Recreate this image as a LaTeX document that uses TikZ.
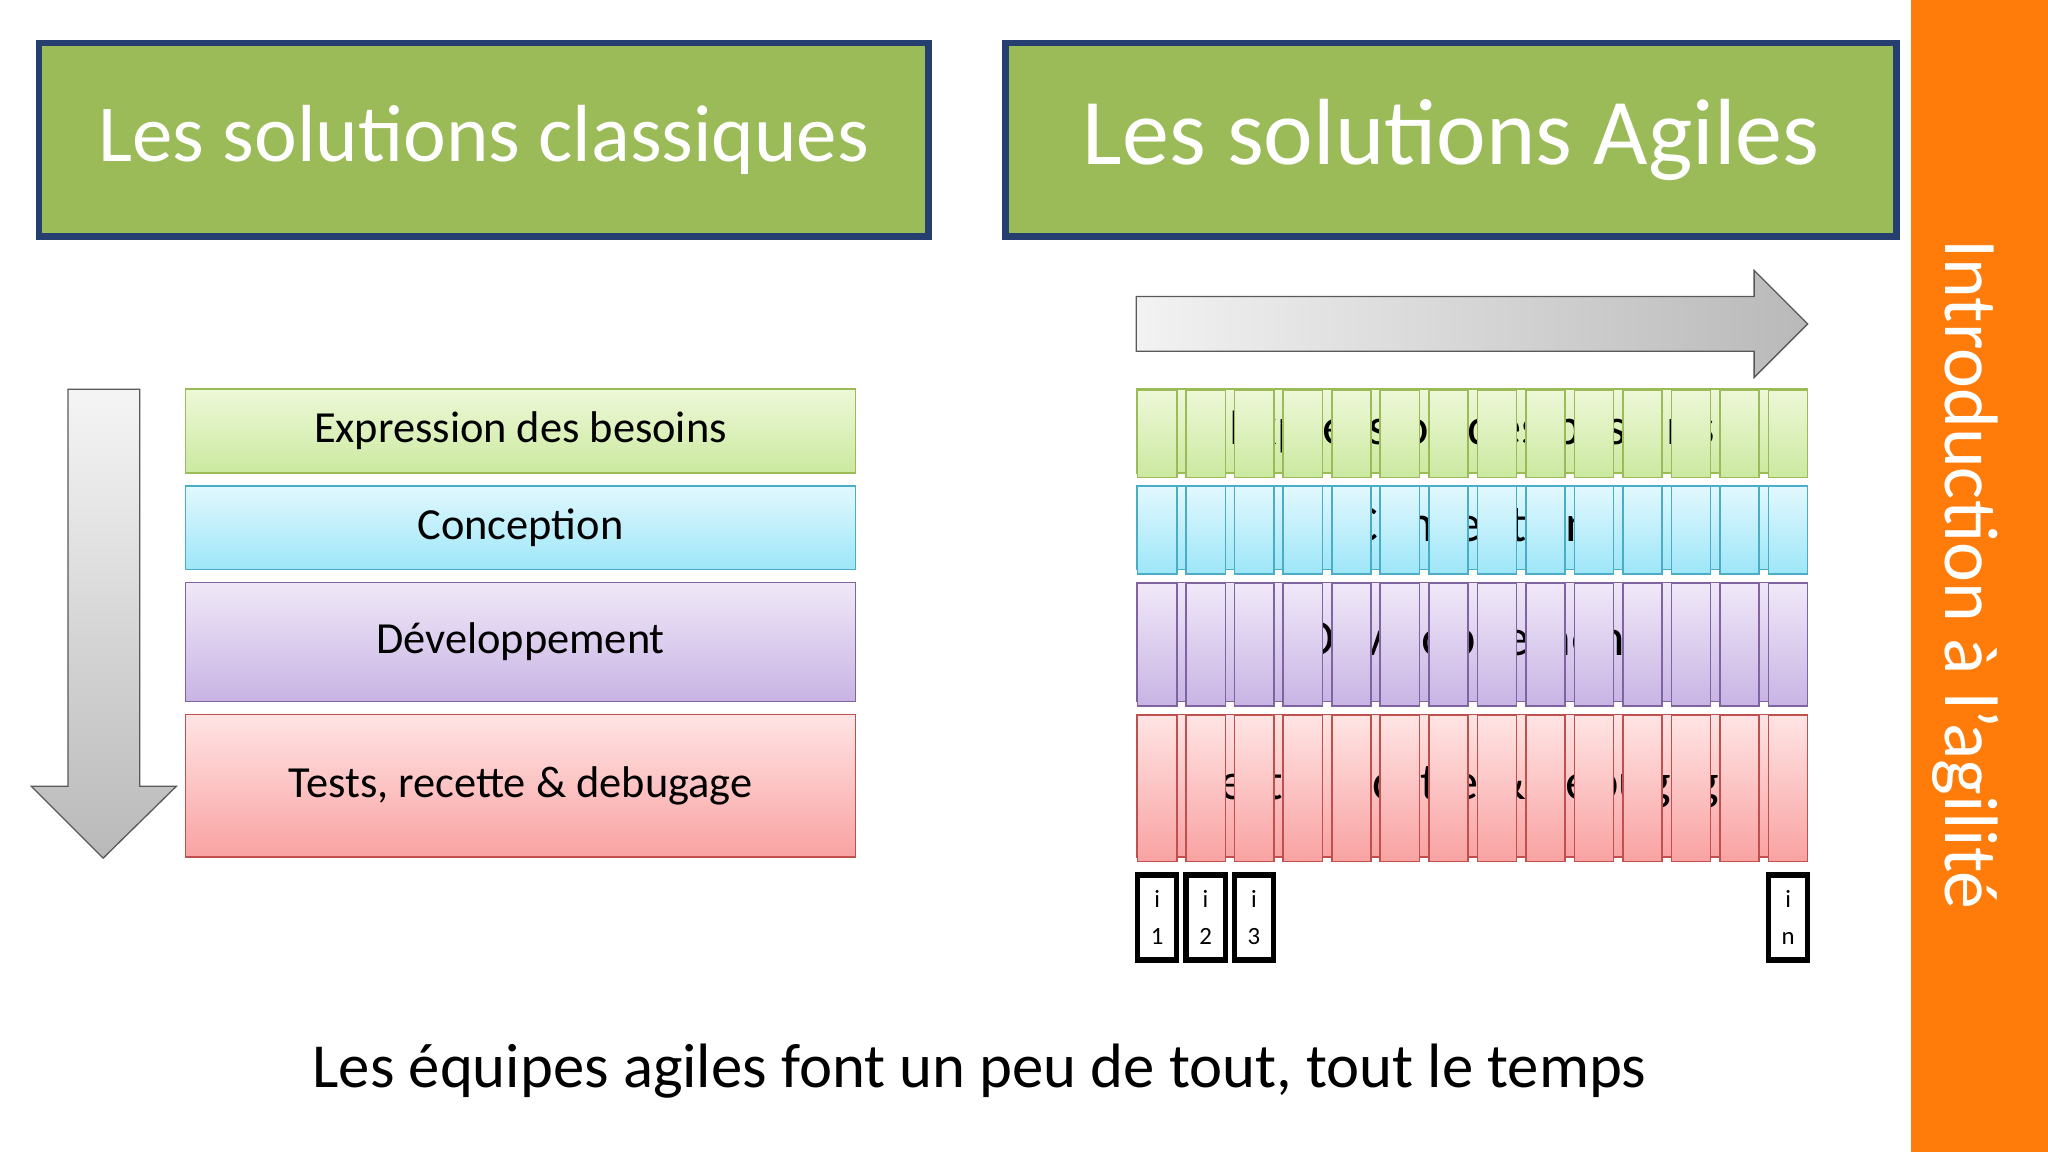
\documentclass[tikz,border=0pt]{standalone}
\usepackage{fontspec}
\setmainfont{Carlito}
\definecolor{tgreen}{HTML}{9BBB59}
\definecolor{tborder}{HTML}{243F70}
\definecolor{orng}{HTML}{FF7B0A}
\definecolor{gB}{HTML}{9BBB59}\definecolor{gT}{HTML}{EEF8D8}\definecolor{gD}{HTML}{CBE9A0}
\definecolor{bB}{HTML}{4BACC6}\definecolor{bT}{HTML}{E2F8FE}\definecolor{bD}{HTML}{9DE6F8}
\definecolor{pB}{HTML}{8064A2}\definecolor{pT}{HTML}{F0E8F8}\definecolor{pD}{HTML}{C8B4E4}
\definecolor{rB}{HTML}{C0504D}\definecolor{rT}{HTML}{FFE4E4}\definecolor{rD}{HTML}{F9A2A2}
\tikzset{
  title/.style={draw=tborder,line width=5pt,fill=tgreen,text=white,minimum height=148pt,inner sep=0pt},
  phase/.style={draw=#1B,line width=1.2pt,top color=#1T,bottom color=#1D,inner sep=0pt,font=\fontsize{34}{40}\selectfont},
  iter/.style={draw=black,line width=4pt,fill=white,minimum width=30pt,minimum height=65pt,inner sep=0pt,align=center,font=\fontsize{19}{28}\selectfont}
}
\begin{document}
\begin{tikzpicture}[x=1pt,y=-1pt]
\useasboundingbox (0,0) rectangle (1568,882);
\fill[white] (0,0) rectangle (1568,882);
\fill[orng] (1463,0) rectangle (1568,882);
\node[rotate=-90,text=white,font=\fontsize{58}{64}\selectfont] (intro) at (1505,440) {Introduction à l’agilité};
\node[title,minimum width=681pt,font=\fontsize{62}{70}\selectfont] (t1) at (370.5,107) {Les solutions classiques};
\node[title,minimum width=682pt,font=\fontsize{72}{80}\selectfont] (t2) at (1111,107) {Les solutions Agiles};
% arrows
\shade[left color=gray!10,right color=gray!55,draw=gray!70!black,line width=1pt]
 (870,227) -- (1343,227) -- (1343,207) -- (1384,248) -- (1343,289) -- (1343,269) -- (870,269) -- cycle;
\shade[top color=gray!8,bottom color=gray!55,draw=gray!70!black,line width=1pt]
 (52,298) -- (107,298) -- (107,602) -- (135,602) -- (79,657) -- (24,602) -- (52,602) -- cycle;
% left phases
\node[phase=g,minimum width=513pt,minimum height=64pt] (l1) at (398.5,330) {Expression des besoins};
\node[phase=b,minimum width=513pt,minimum height=64pt] (l2) at (398.5,404) {Conception};
\node[phase=p,minimum width=513pt,minimum height=91pt] (l3) at (398.5,491.5) {Développement};
\node[phase=r,minimum width=513pt,minimum height=109pt] (l4) at (398.5,601.5) {Tests, recette \& debugage};
% right phases
\foreach \c/\y/\h/\t [count=\k] in {g/330/64/Expression des besoins,b/404/64/Conception,p/491.5/91/Développement,r/601.5/109/{Tests, recette \& debugage}}{
  \node[phase=\c,minimum width=514pt,minimum height=\h pt,font=\fontsize{40}{46}\selectfont] (r\k) at (1127,\y) {\t};
  \foreach \i in {0,...,13}{
    \node[phase=\c,minimum width=30pt,minimum height=\h pt+3pt] (c\k-\i) at (886+\i*37.15,\y+2) {};
  }
}
\node[iter] (i1) at (886,702.5) {i\\1};
\node[iter] (i2) at (923,702.5) {i\\2};
\node[iter] (i3) at (960,702.5) {i\\3};
\node[iter] (in) at (1369,702.5) {i\\n};
\node[font=\fontsize{48}{56}\selectfont] (bottom) at (750,820) {Les équipes agiles font un peu de tout, tout le temps};
\end{tikzpicture}
\end{document}
